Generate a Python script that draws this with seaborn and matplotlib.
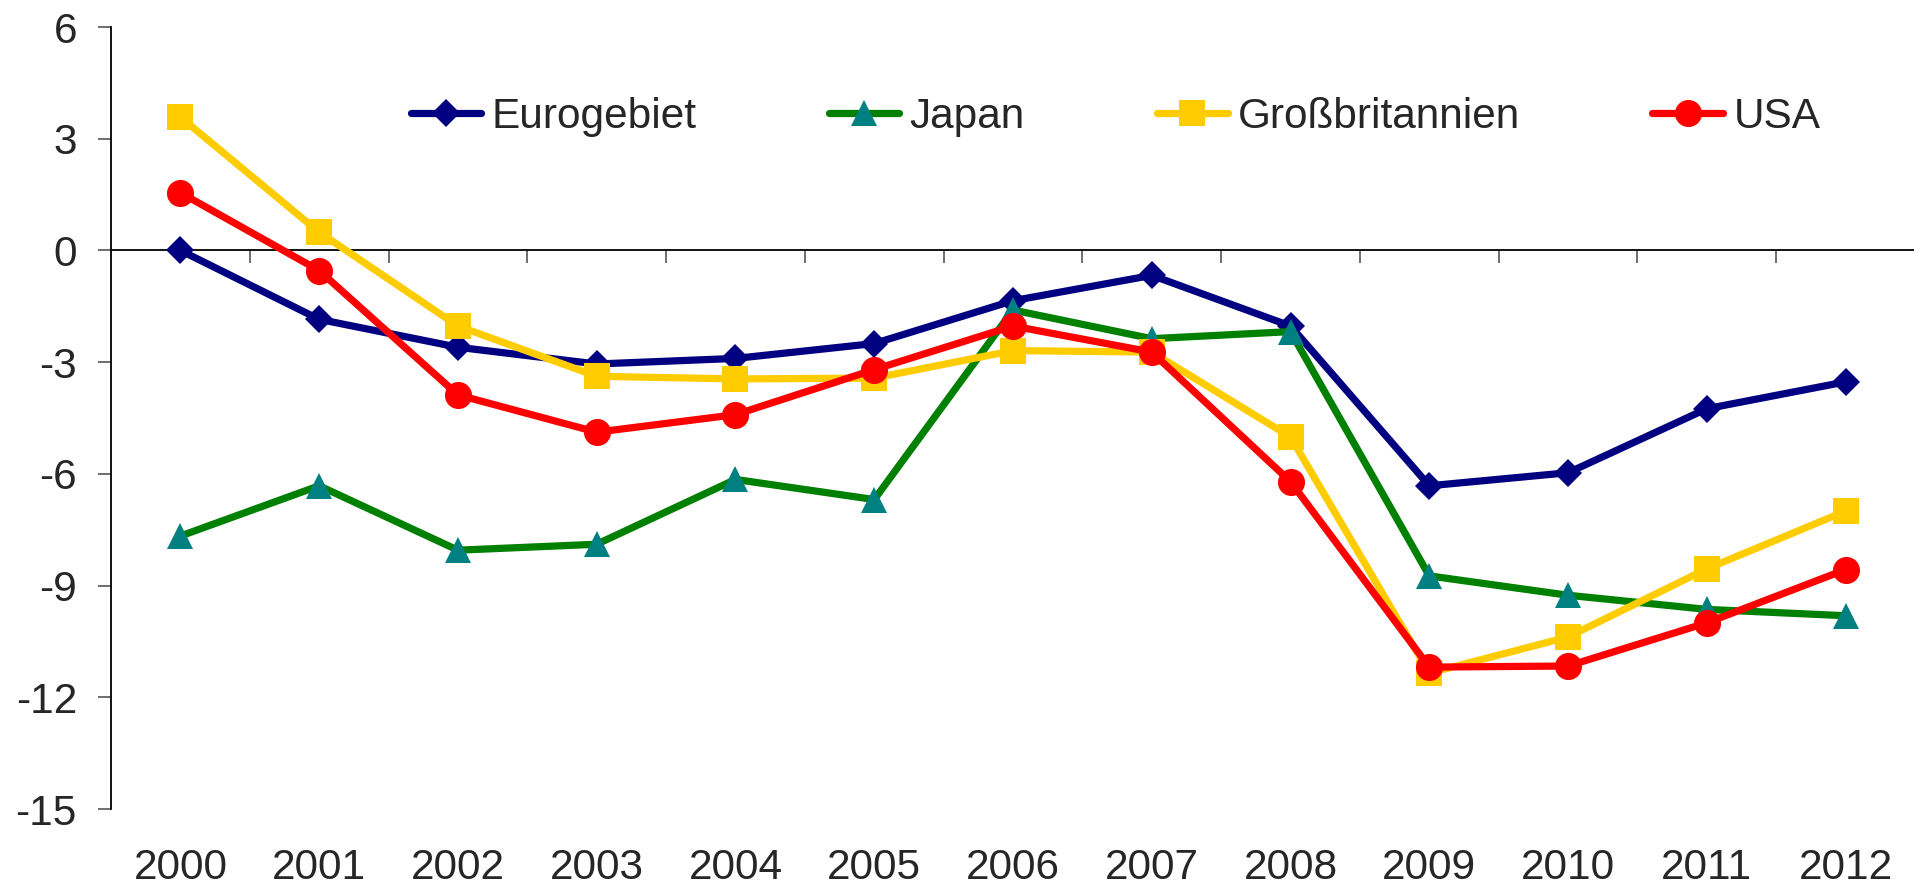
import matplotlib
matplotlib.use("Agg")
import matplotlib.pyplot as plt
import seaborn as sns
import pandas as pd

years = [2000, 2001, 2002, 2003, 2004, 2005, 2006, 2007, 2008, 2009, 2010, 2011, 2012]
eurogebiet = [0.0, -1.85, -2.6, -3.05, -2.9, -2.5, -1.35, -0.67, -2.03, -6.32, -5.97, -4.25, -3.53]
japan = [-7.67, -6.32, -8.05, -7.89, -6.15, -6.69, -1.6, -2.37, -2.18, -8.74, -9.26, -9.64, -9.81]
grossbritannien = [3.58, 0.49, -2.03, -3.38, -3.45, -3.43, -2.69, -2.73, -5.01, -11.35, -10.38, -8.55, -7.0]
usa = [1.55, -0.54, -3.88, -4.88, -4.41, -3.2, -2.03, -2.73, -6.21, -11.19, -11.16, -10.0, -8.57]
y_ticks = [-15, -12, -9, -6, -3, 0, 3, 6]

series = [
    ("Eurogebiet", eurogebiet, "#000080", "#000080", "D", 13.8),
    ("Japan", japan, "#008000", "#008080", "^", 19.3),
    ("Großbritannien", grossbritannien, "#FFCC00", "#FFCC00", "s", 19.0),
    ("USA", usa, "#FF0000", "#FF0000", "o", 19.5),
]

sns.set_style("white")
plt.rcParams["font.family"] = ["Liberation Sans", "DejaVu Sans"]

FS = 30.5
LW = 5.2

fig = plt.figure(figsize=(19.15, 8.86), dpi=100)
ax = fig.add_axes([111 / 1915, 1 - 809 / 886, 1 - 111 / 1915, (809 - 27) / 886])

for name, vals, lc, mc, mk, ms in series:
    df = pd.DataFrame({"Jahr": years, "Wert": vals})
    sns.lineplot(data=df, x="Jahr", y="Wert", ax=ax, color=lc, linewidth=LW,
                 marker=mk, markersize=ms, markerfacecolor=mc, markeredgecolor=mc,
                 markeredgewidth=0, label=name)

for line in ax.get_lines():
    line.set_linewidth(LW)
    line.set_solid_joinstyle("round")
    line.set_solid_capstyle("round")

ax.set_xlim(years[0] - 0.5, years[-1] + 0.5)
ax.set_ylim(-15, 6)
ax.set_yticks(y_ticks)
ax.set_yticklabels([str(v) for v in y_ticks])
ax.set_xticks(years)
ax.set_xticklabels([str(y) for y in years])
ax.set_xlabel("")
ax.set_ylabel("")

for s in ["top", "right", "bottom"]:
    ax.spines[s].set_visible(False)
ax.spines["left"].set_color("black")
ax.spines["left"].set_linewidth(1.3)

ax.tick_params(axis="y", which="major", direction="out", length=9.5, width=1.2,
               color="#555555", pad=15, labelsize=FS, left=True)
ax.tick_params(axis="x", which="major", length=0, pad=28, labelsize=FS)

# zero axis with category-boundary ticks
ax.axhline(0, color="black", lw=1.3, zorder=1)
sec = ax.secondary_xaxis(0, transform=ax.transData)
sec.set_xticks([y + 0.5 for y in years[:-1]])
sec.set_xticklabels([])
sec.tick_params(axis="x", direction="out", length=9.5, width=1.2, color="#555555")
sec.spines["bottom"].set_visible(False)

leg = ax.legend(loc="center", bbox_to_anchor=(0.5825, 0.868), bbox_transform=fig.transFigure,
                ncol=4, frameon=False, fontsize=FS, handlelength=1.67, handletextpad=0.24,
                columnspacing=3.12, numpoints=1, borderpad=0, borderaxespad=0)
for h in leg.get_lines():
    h.set_linewidth(LW)
    h.set_solid_capstyle("round")

fig.savefig("out.png", dpi=100)
